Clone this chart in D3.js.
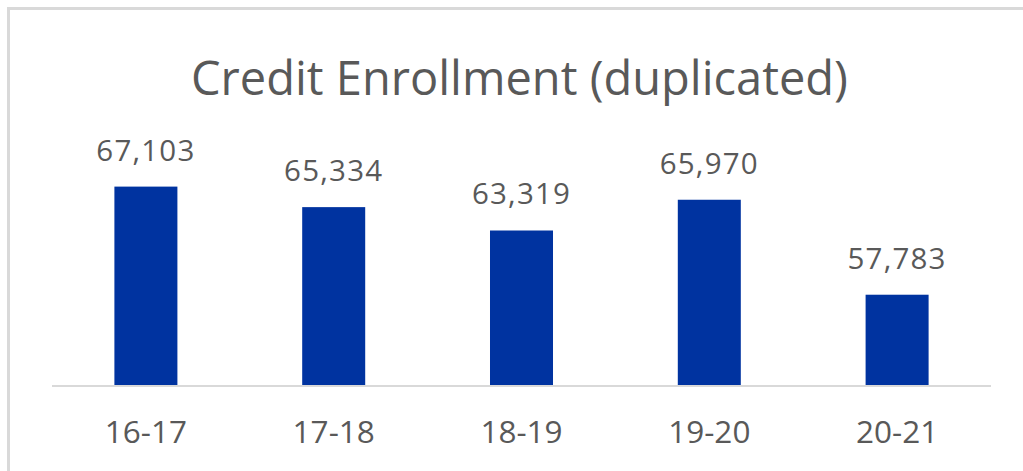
<!DOCTYPE html>
<html>
<head>
<meta charset="utf-8">
<script src="https://cdn.jsdelivr.net/npm/d3@7"></script>
<style>
  html, body { margin: 0; padding: 0; background: #ffffff; }
  svg { display: block; }
</style>
</head>
<body>
<svg id="chart" width="1023" height="471"></svg>
<script>
// ---- data ----
const title = "Credit Enrollment (duplicated)";
const categories = ["16-17", "17-18", "18-19", "19-20", "20-21"];
const values = [67103, 65334, 63319, 65970, 57783];
const yDomain = [50000, 70000];

// ---- layout ----
const W = 1023, H = 471;
const plot = { left: 52, right: 991, top: 153, bottom: 385 };
const textColor = "#595959";
const barColor = "#0033a0";
const gridColor = "#d9d9d9";
const font = "'Open Sans', 'Noto Sans', sans-serif";

const svg = d3.select("#chart");

// chart border
svg.append("rect")
  .attr("x", 8.5).attr("y", 8.5)
  .attr("width", W + 20).attr("height", H + 20)
  .attr("fill", "#ffffff")
  .attr("stroke", gridColor)
  .attr("stroke-width", 3);

const x = d3.scaleBand()
  .domain(categories)
  .range([plot.left, plot.right])
  .paddingInner(0.6645)
  .paddingOuter(0.6645 / 2);

const y = d3.scaleLinear()
  .domain(yDomain)
  .range([plot.bottom, plot.top]);

// title
svg.append("text")
  .attr("x", 519.5)
  .attr("y", 95)
  .attr("text-anchor", "middle")
  .attr("font-family", font)
  .attr("font-size", 47)
  .attr("fill", textColor)
  .text(title);

const data = categories.map((c, i) => ({ c, v: values[i] }));

// bars
svg.append("g").selectAll("rect")
  .data(data)
  .join("rect")
  .attr("x", d => x(d.c))
  .attr("y", d => y(d.v))
  .attr("width", x.bandwidth())
  .attr("height", d => y(yDomain[0]) - y(d.v))
  .attr("fill", barColor);

// x axis (line only, labels below)
const xAxis = svg.append("g")
  .attr("transform", `translate(0,${plot.bottom + 1})`)
  .call(d3.axisBottom(x).tickSize(0).tickPadding(0).tickSizeOuter(0));
xAxis.select(".domain")
  .attr("stroke", gridColor)
  .attr("stroke-width", 2)
  .attr("d", `M${plot.left},0H${plot.right}`);
xAxis.selectAll(".tick text")
  .attr("dy", null)
  .attr("y", 57)
  .attr("font-family", font)
  .attr("font-size", 31.5)
  .attr("fill", textColor);

// value labels
const fmt = d3.format(",");
svg.append("g").selectAll("text")
  .data(data)
  .join("text")
  .attr("x", d => x(d.c) + x.bandwidth() / 2)
  .attr("y", d => y(d.v) - 26)
  .attr("text-anchor", "middle")
  .attr("font-family", font)
  .attr("font-size", 29.5)
  .attr("letter-spacing", 1.2)
  .attr("fill", textColor)
  .text(d => fmt(d.v));
</script>
</body>
</html>
